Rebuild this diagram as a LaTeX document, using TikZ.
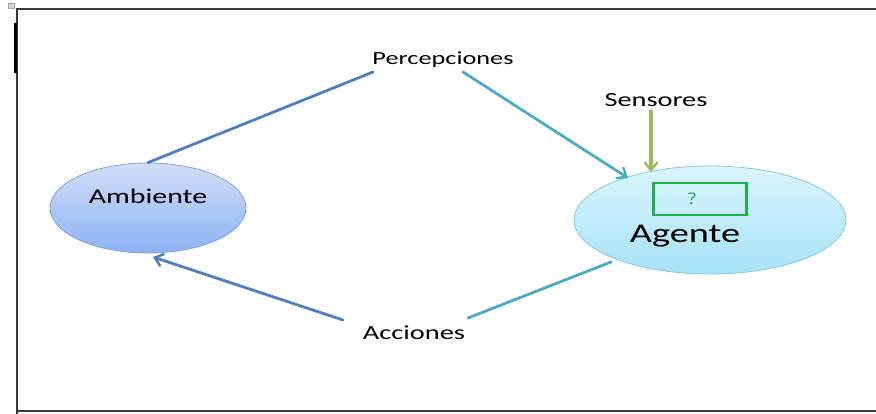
\documentclass[tikz,border=0pt]{standalone}
\usepackage{fontspec}
\setmainfont{Carlito}
\usetikzlibrary{shapes.geometric,arrows.meta}
\definecolor{frameGray}{HTML}{3A3A3A}
\definecolor{linkBlue}{HTML}{4F7FC0}
\definecolor{linkTeal}{HTML}{4BACC6}
\definecolor{sensGreen}{HTML}{9BBB59}
\definecolor{boxGreen}{HTML}{1DB04E}
\definecolor{ambTop}{HTML}{D2DEF9}
\definecolor{ambBot}{HTML}{8DB2F2}
\definecolor{ambEdge}{HTML}{7FA3DB}
\definecolor{ageTop}{HTML}{DAF5FC}
\definecolor{ageBot}{HTML}{A6E3F7}
\definecolor{ageEdge}{HTML}{86C9DD}
\begin{document}
\begin{tikzpicture}[x=1pt,y=-1pt,
  lbl/.style={inner sep=0pt, text=black, xscale=1.42, transform shape},
  link/.style={line width=2.8pt, line cap=round},
  tip/.style={-{Straight Barb[length=8pt,width=13pt,line width=2.4pt]}}]
\useasboundingbox (0,0) rectangle (876,414);
\fill[white] (0,0) rectangle (876,414);
% window frame
\draw[frameGray, line width=2pt] (17,414) -- (17,9) -- (876,9);
\draw[frameGray, line width=2pt] (17,411) -- (876,411);
\draw[black, line width=3pt] (15,23) -- (15,73);
\filldraw[draw=gray!70, fill=blue!25!gray!30, line width=0.5pt] (8,3) rectangle (14,8);

% the two states
\node[ellipse, minimum width=196pt, minimum height=90pt, draw=ambEdge, line width=0.8pt,
      top color=ambTop, bottom color=ambBot] (amb) at (148,208) {};
\node[lbl, font=\fontsize{21}{24}\selectfont] (ambt) at (148,196) {Ambiente};

\node[ellipse, minimum width=272pt, minimum height=108pt, draw=ageEdge, line width=0.8pt,
      top color=ageTop, bottom color=ageBot] (age) at (710,220) {};
\node[draw=boxGreen, line width=2.4pt, minimum width=93pt, minimum height=32pt, inner sep=0pt]
      (box) at (700,199) {};
\node[inner sep=0pt, text=boxGreen, font=\fontsize{17}{19}\selectfont, xscale=1.3, transform shape]
      (q) at (692,199) {?};
\node[lbl, font=\fontsize{27}{30}\selectfont] (aget) at (685,236) {Agente};

% labels
\node[lbl, font=\fontsize{18.5}{21}\selectfont] (perc) at (443,60) {Percepciones};
\node[lbl, font=\fontsize{20}{23}\selectfont] (sens) at (656,100) {Sensores};
\node[lbl, font=\fontsize{20}{23}\selectfont] (acc) at (414,333) {Acciones};

% connector end points
\coordinate (percL) at (373,72);
\coordinate (percR) at (463,72);
\coordinate (ageIn) at (628,178);
\coordinate (sensTop) at (651,111);
\coordinate (sensEnd) at (651,172);
\coordinate (ageOut) at (611,262);
\coordinate (accR) at (468,318);
\coordinate (accL) at (343,320);
\coordinate (ambIn) at (153,257);

% perception path
\draw[link, linkBlue] (amb.north) -- (percL);
\draw[link, linkTeal, tip] (percR) -- (ageIn);
\draw[link, sensGreen, line width=3.2pt, tip] (sensTop) -- (sensEnd);
% action path
\draw[link, linkTeal] (ageOut) -- (accR);
\draw[link, linkBlue, tip] (accL) -- (ambIn);
\end{tikzpicture}
\end{document}
